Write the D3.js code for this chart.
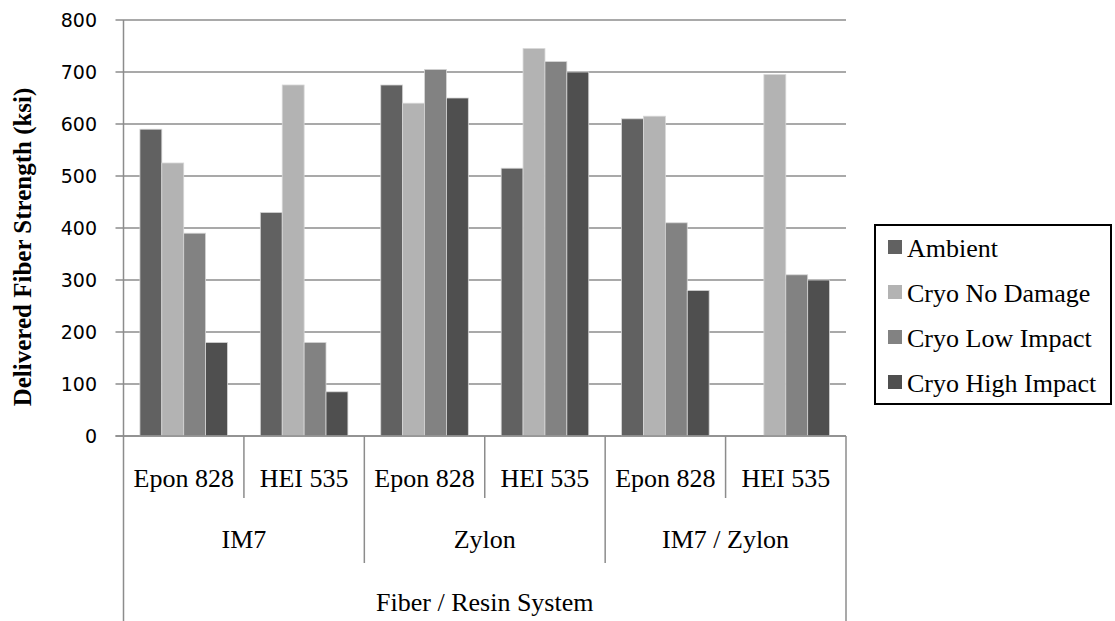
<!DOCTYPE html>
<html>
<head>
<meta charset="utf-8">
<script src="https://cdn.jsdelivr.net/npm/d3@7"></script>
<style>
  html, body { margin: 0; padding: 0; background: #fff; }
  svg { display: block; }
</style>
</head>
<body>
<svg id="chart" width="1115" height="621"></svg>
<script>
const fibers = ['IM7', 'Zylon', 'IM7 / Zylon'];
const resins = ['Epon 828', 'HEI 535'];
const series = ['Ambient', 'Cryo No Damage', 'Cryo Low Impact', 'Cryo High Impact'];
const yTicks = [0, 100, 200, 300, 400, 500, 600, 700, 800];

// one value per fiber/resin pair, in order IM7-Epon, IM7-HEI, Zylon-Epon, ...
const ambient = [590, 430, 675, 515, 610, null];
const cryoNoDamage = [525, 675, 640, 745, 615, 695];
const cryoLowImpact = [390, 180, 705, 720, 410, 310];
const cryoHighImpact = [180, 85, 650, 700, 280, 300];

const colors = ['#616161', '#b3b3b3', '#828282', '#4f4f4f'];
const values = [ambient, cryoNoDamage, cryoLowImpact, cryoHighImpact];

const svg = d3.select('#chart');
const plotL = 123.5, plotR = 846, plotT = 20, plotB = 436;
const grid = '#8c8c8c';
const serif = "'Liberation Serif', 'Times New Roman', serif";

const cells = [];
fibers.forEach(f => resins.forEach(r => cells.push(f + '|' + r)));

const x = d3.scaleBand().domain(cells).range([plotL, plotR]);
const xi = d3.scaleBand().domain(series).range([0, x.bandwidth()]).paddingOuter(0.75);
const y = d3.scaleLinear().domain([0, 800]).range([plotB, plotT]);

// gridlines + ticks
svg.append('g').selectAll('line').data(yTicks).join('line')
  .attr('x1', plotL - 8).attr('x2', plotR)
  .attr('y1', d => y(d)).attr('y2', d => y(d))
  .attr('stroke', grid).attr('stroke-width', 1.5);

svg.append('g').selectAll('text').data(yTicks).join('text')
  .attr('x', 97).attr('y', d => y(d) + 7)
  .attr('text-anchor', 'end')
  .attr('font-family', "'DejaVu Sans', sans-serif")
  .attr('font-size', 19)
  .attr('fill', '#000')
  .text(d => d);

// bars
const bars = [];
cells.forEach((c, i) => series.forEach((s, j) => {
  if (values[j][i] != null) bars.push({ cell: c, s: s, v: values[j][i], color: colors[j] });
}));

svg.append('g').selectAll('rect').data(bars).join('rect')
  .attr('x', d => x(d.cell) + xi(d.s))
  .attr('width', xi.bandwidth())
  .attr('y', d => y(d.v))
  .attr('height', d => y(0) - y(d.v))
  .attr('fill', d => d.color)
  .attr('stroke', '#d6d6d6').attr('stroke-width', 0.8);

// x axis baseline
svg.append('line').attr('x1', plotL - 8).attr('x2', plotR).attr('y1', plotB).attr('y2', plotB)
  .attr('stroke', grid).attr('stroke-width', 1.5);

// category separators (y axis line is the first one)
const seps = [];
cells.forEach((c, i) => {
  const xx = x(c);
  if (i === 0) seps.push({ x: xx, y1: plotT, y2: 621 });
  else if (i % 2 === 0) seps.push({ x: xx, y1: plotB, y2: 563 });
  else seps.push({ x: xx, y1: plotB, y2: 498 });
});
seps.push({ x: plotR, y1: plotB, y2: 621 });
svg.append('g').selectAll('line').data(seps).join('line')
  .attr('x1', d => d.x).attr('x2', d => d.x)
  .attr('y1', d => d.y1).attr('y2', d => d.y2)
  .attr('stroke', grid).attr('stroke-width', 1.5);

// subcategory labels
svg.append('g').selectAll('text').data(cells).join('text')
  .attr('x', d => x(d) + x.bandwidth() / 2).attr('y', 487)
  .attr('text-anchor', 'middle')
  .attr('font-family', serif).attr('font-size', 26)
  .text(d => d.split('|')[1]);

svg.append('g').selectAll('text').data(fibers).join('text')
  .attr('x', f => x(f + '|' + resins[0]) + x.bandwidth())
  .attr('y', 548)
  .attr('text-anchor', 'middle')
  .attr('font-family', serif).attr('font-size', 26)
  .text(f => f);

svg.append('text')
  .attr('x', (plotL + plotR) / 2).attr('y', 611)
  .attr('text-anchor', 'middle')
  .attr('font-family', serif).attr('font-size', 26)
  .text('Fiber / Resin System');

// y title
svg.append('text')
  .attr('transform', 'translate(31,247) rotate(-90)')
  .attr('text-anchor', 'middle')
  .attr('font-family', serif).attr('font-size', 25).attr('font-weight', 'bold')
  .text('Delivered Fiber Strength (ksi)');

// legend
const lg = svg.append('g');
lg.append('rect').attr('x', 875).attr('y', 225).attr('width', 236).attr('height', 179)
  .attr('fill', '#fff').attr('stroke', '#000').attr('stroke-width', 2);
const item = lg.selectAll('g.item').data(series).join('g')
  .attr('transform', (d, i) => `translate(888,${257 + i * 45})`);
item.append('rect').attr('x', 0).attr('y', -17).attr('width', 14).attr('height', 14)
  .attr('fill', (d, i) => colors[i]);
item.append('text').attr('x', 19).attr('y', 0)
  .attr('font-family', serif).attr('font-size', 26)
  .text(d => d);
</script>
</body>
</html>
